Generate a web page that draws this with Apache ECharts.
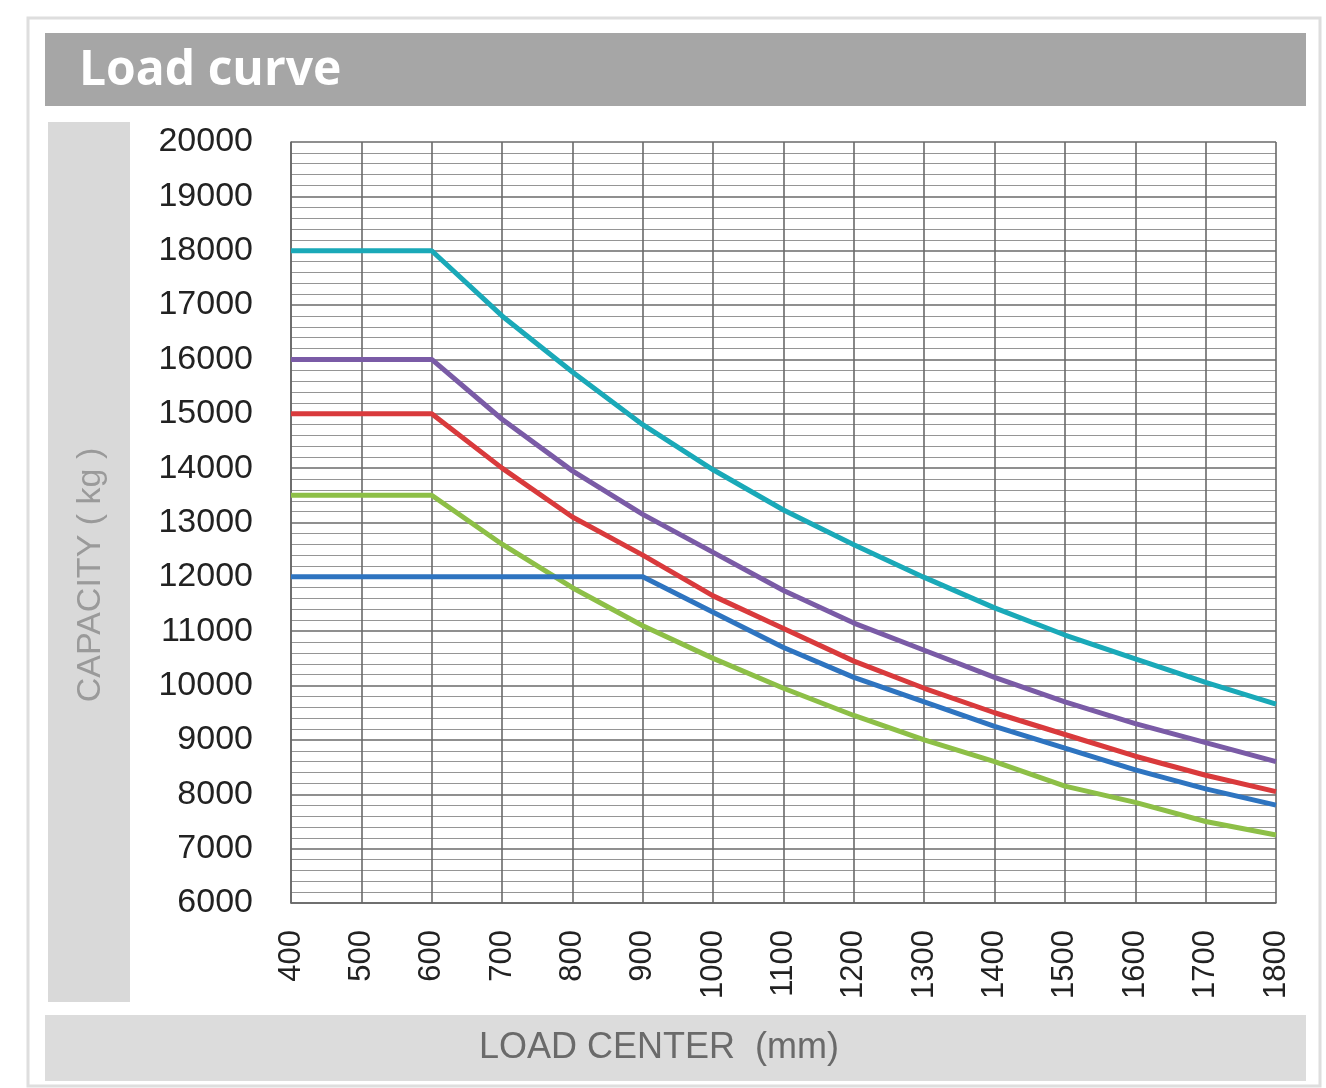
<!DOCTYPE html>
<html>
<head>
<meta charset="utf-8">
<title>Load curve</title>
<script src="https://cdn.jsdelivr.net/npm/echarts@6/dist/echarts.min.js"></script>
<style>
  html, body { margin: 0; padding: 0; background: #fff; }
  #chart { width: 1326px; height: 1088px; }
</style>
</head>
<body>
<div id="chart"></div>
<script>
// load center (mm)
const loadCenter = [400, 500, 600, 700, 800, 900, 1000, 1100, 1200, 1300, 1400, 1500, 1600, 1700, 1800]

// capacity (kg)
const cap18t = [18000, 18000, 18000, 16800, 15770, 14800, 13970, 13230, 12590, 11990, 11430, 10930, 10490, 10060, 9660]
const cap16t = [16000, 16000, 16000, 14900, 13950, 13150, 12450, 11750, 11150, 10650, 10150, 9700, 9300, 8950, 8600]
const cap15t = [15000, 15000, 15000, 14000, 13100, 12400, 11650, 11050, 10450, 9950, 9500, 9100, 8700, 8350, 8050]
const cap135t = [13500, 13500, 13500, 12600, 11800, 11100, 10500, 9950, 9450, 9000, 8600, 8150, 7850, 7500, 7250]
const cap12t = [12000, 12000, 12000, 12000, 12000, 12000, 11350, 10700, 10150, 9700, 9250, 8850, 8450, 8100, 7800]

const curves = [
  { name: '18t', data: cap18t, color: '#1aa9b8' },
  { name: '16t', data: cap16t, color: '#7a5ba6' },
  { name: '15t', data: cap15t, color: '#d93a3c' },
  { name: '13.5t', data: cap135t, color: '#8dbf47' },
  { name: '12t', data: cap12t, color: '#2e74c0' }
]

const chart = echarts.init(document.getElementById('chart'))

chart.setOption({
  backgroundColor: '#fff',
  animation: false,
  /* 背景块：外框、标题栏、左侧栏、底栏 */
  graphic: [
    { type: 'rect', shape: { x: 28, y: 18, width: 1292, height: 1068 }, style: { fill: 'none', stroke: '#dedede', lineWidth: 3 }, z: -10 },
    { type: 'rect', shape: { x: 45, y: 33, width: 1261, height: 73 }, style: { fill: '#a6a6a6' }, z: -5 },
    { type: 'rect', shape: { x: 48, y: 122, width: 82, height: 880 }, style: { fill: '#d9d9d9' }, z: -5 },
    { type: 'rect', shape: { x: 45, y: 1015, width: 1261, height: 66 }, style: { fill: '#dcdcdc' }, z: -5 },
    {
      type: 'text', x: 79, y: 71,
      style: { text: 'Load curve', fill: '#fff', font: 'bold 48px "Open Sans", sans-serif', textVerticalAlign: 'middle' }
    },
    {
      type: 'text', x: 91, y: 575, rotation: Math.PI / 2,
      style: { text: 'CAPACITY ( kg )', fill: '#9a9a9a', font: '34px "Liberation Sans", Arial, sans-serif', textAlign: 'center', textVerticalAlign: 'middle' }
    },
    {
      type: 'text', x: 659, y: 1048,
      style: { text: 'LOAD CENTER  (mm)', fill: '#6a6a6a', font: '36px "Liberation Sans", Arial, sans-serif', textAlign: 'center', textVerticalAlign: 'middle' }
    }
  ],
  grid: {
    left: 291,
    right: 50,
    top: 142,
    bottom: 185
  },
  xAxis: {
    type: 'value',
    min: 400,
    max: 1800,
    interval: 100,
    axisLine: { show: true, lineStyle: { color: '#666', width: 1.5 } },
    axisTick: { show: false },
    axisLabel: {
      rotate: 90,
      margin: 27,
      color: '#222',
      fontSize: 31,
      fontFamily: '"Liberation Sans", Arial, sans-serif',
      formatter: v => String(v)
    },
    splitLine: { show: true, lineStyle: { color: '#6a6a6a', width: 1.6 } }
  },
  yAxis: {
    type: 'value',
    min: 6000,
    max: 20000,
    interval: 1000,
    axisLine: { show: true, lineStyle: { color: '#666', width: 1.5 } },
    axisTick: { show: false },
    axisLabel: {
      margin: 38,
      color: '#222',
      fontSize: 34,
      fontFamily: '"Liberation Sans", Arial, sans-serif',
      formatter: v => String(v)
    },
    splitLine: { show: true, lineStyle: { color: '#6a6a6a', width: 1.6 } },
    minorTick: { show: false, splitNumber: 5 },
    minorSplitLine: { show: true, lineStyle: { color: '#959595', width: 1.2 } }
  },
  series: curves.map(c => ({
    name: c.name,
    type: 'line',
    data: loadCenter.map((x, i) => [x, c.data[i]]),
    showSymbol: false,
    smooth: false,
    lineStyle: { color: c.color, width: 5 },
    itemStyle: { color: c.color }
  }))
})
</script>
</body>
</html>
